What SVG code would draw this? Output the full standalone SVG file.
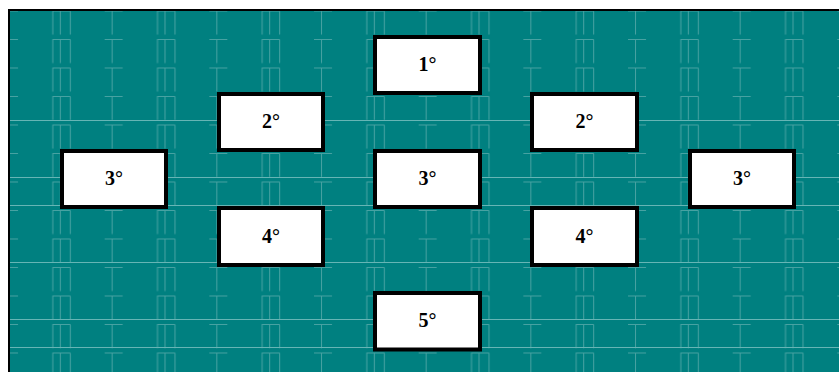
<svg xmlns="http://www.w3.org/2000/svg" width="839" height="372" viewBox="0 0 839 372">
<style>
.node rect{fill:#ffffff;stroke:#000000;stroke-width:4}
.node text{font-family:"Liberation Serif","Times New Roman",serif;font-weight:bold;font-size:20px;text-anchor:middle;fill:#000000}
.pt{stroke:#48a2a2;stroke-width:1;fill:none}
.full{stroke:#66b5b5;stroke-width:1;fill:none}
</style>
<defs>
<pattern id="wall" patternUnits="userSpaceOnUse" x="0" y="10.5" width="104.67" height="28.5">
<path class="pt" d="M0 0.5H18M7.5 0.5V24M52.33 0.5H70.33M52.83 0.5V24M60.33 0.5V24M70.33 0.5V24"/>
</pattern>
</defs>
<rect x="0" y="0" width="839" height="372" fill="#ffffff"/>
<rect x="10" y="11" width="829" height="361" fill="#008080"/>
<rect x="10" y="11" width="829" height="361" fill="url(#wall)"/>
<path class="full" d="M10 120.5H839M10 177.5H839M10 205.5H839M10 262.5H839M10 319.5H839M10 347.5H839"/>
<rect x="8" y="9" width="831" height="2" fill="#000000"/>
<rect x="8" y="9" width="2" height="363" fill="#000000"/>
<g id="connectors"/>
<g id="n1" class="node"><rect x="375" y="37" width="105" height="56"/><text x="427.5" y="71">1°</text></g>
<g id="n2L" class="node"><rect x="219" y="94" width="104" height="56"/><text x="271" y="128">2°</text></g>
<g id="n2R" class="node"><rect x="532" y="94" width="105" height="56"/><text x="584.5" y="128">2°</text></g>
<g id="n3L" class="node"><rect x="62" y="151" width="104" height="56"/><text x="114" y="185">3°</text></g>
<g id="n3C" class="node"><rect x="375" y="151" width="105" height="56"/><text x="427.5" y="185">3°</text></g>
<g id="n3R" class="node"><rect x="690" y="151" width="104" height="56"/><text x="742" y="185">3°</text></g>
<g id="n4L" class="node"><rect x="219" y="208" width="104" height="57"/><text x="271" y="242.5">4°</text></g>
<g id="n4R" class="node"><rect x="532" y="208" width="105" height="57"/><text x="584.5" y="242.5">4°</text></g>
<g id="n5" class="node"><rect x="375" y="293" width="105" height="56.5"/><text x="427.5" y="327">5°</text></g>
</svg>
